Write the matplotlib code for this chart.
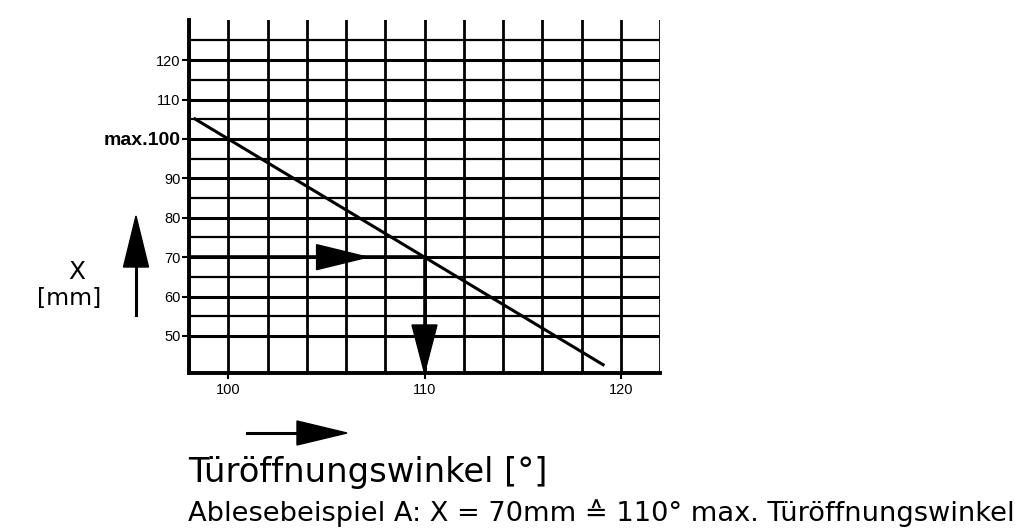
import numpy as np
import matplotlib
matplotlib.use("Agg")
import matplotlib.pyplot as plt
from matplotlib.patches import Polygon
from matplotlib.transforms import IdentityTransform

# Kennlinie: Türöffnungswinkel [°] -> X [mm]
winkel = [98.3, 119.1]
abstand = [105.1, 42.7]

# Ablesebeispiel A
beispiel_x = 70
beispiel_winkel = 110

x_ticks = [100, 110, 120]
y_ticks = [50, 60, 70, 80, 90, 100, 110, 120]
y_labels = ["50", "60", "70", "80", "90", "max.100", "110", "120"]
x_grid = np.arange(98, 123, 2)
y_grid = np.arange(50, 126, 5)

plt.rcParams['font.family'] = ['Liberation Sans Narrow', 'Liberation Sans', 'DejaVu Sans']
thin = ['DejaVu Sans', 'DejaVu Sans Mono', 'Noto Sans CJK JP']

fig = plt.figure(figsize=(10.19, 5.32), dpi=100)
W, H = 1019, 532
ax = fig.add_axes([189 / W, 1 - 373 / H, (660 - 189) / W, (373 - 20) / H])
ax.set_xlim(98, 122)
ax.set_ylim(40.6, 130.2)

# Raster
for gx in x_grid:
    ax.axvline(gx, color='black', lw=2.0, zorder=1)
for gy in y_grid:
    lw = 2.2 if gy % 10 == 0 else 1.6
    ax.plot([98, 122], [gy, gy], color='black', lw=lw, zorder=1, solid_capstyle='butt')

for s in ['top', 'right']:
    ax.spines[s].set_visible(False)
for s in ['left', 'bottom']:
    ax.spines[s].set_linewidth(2.8)

ax.set_xticks(x_ticks)
ax.set_xticklabels([str(t) for t in x_ticks], fontsize=10.5)
ax.set_yticks(y_ticks)
ax.set_yticklabels(y_labels, fontsize=10.5)
for lab in ax.get_yticklabels():
    if lab.get_text().startswith("max"):
        lab.set_fontsize(14)
        lab.set_fontweight('semibold')
ax.tick_params(axis='y', length=5, width=1.5, pad=1)
ax.tick_params(axis='x', length=4, width=1.5, pad=3)

# Kennlinie
ax.plot(winkel, abstand, color='black', lw=2.2, zorder=3)

# Ablesebeispiel: Linien
ax.plot([98, beispiel_winkel], [beispiel_x, beispiel_x], color='black', lw=2.6, zorder=3)
ax.plot([beispiel_winkel, beispiel_winkel], [beispiel_x, 40.6], color='black', lw=2.6, zorder=3)


def head(tip_px, direction, length, width, artist_add):
    tx, ty = tip_px
    dx, dy = direction
    bx, by = tx - dx * length, ty - dy * length
    px, py = -dy, dx
    pts = [(tx, ty), (bx + px * width / 2, by + py * width / 2),
           (bx - px * width / 2, by - py * width / 2)]
    artist_add(Polygon(pts, closed=True, facecolor='black', edgecolor='black',
                       transform=IdentityTransform(), zorder=5))


fig.canvas.draw()
# Pfeilspitze horizontal (Mitte der Linie)
tip = ax.transData.transform((107.1, beispiel_x))
head(tip, (1, 0), 51, 25, ax.add_patch)
# Pfeilspitze nach unten
tip = ax.transData.transform((beispiel_winkel, 40.6))
head(tip, (0, -1), 48, 25, ax.add_patch)


def fig_px(x, y):
    return (x, H - y)


# Y-Achsen-Pfeil links
fig.add_artist(plt.Line2D([136, 136], [H - 315, H - 260], color='black', lw=2.2,
                          transform=IdentityTransform()))
head(fig_px(136, 216), (0, 1), 51, 25, fig.add_artist)


def fit_text(x, y, s, width, size, **kw):
    # Schriftgröße so anpassen, dass die Breite passt
    t = fig.text(x / W, 1 - y / H, s, fontsize=size, family=thin, **kw)
    r = fig.canvas.get_renderer()
    w = t.get_window_extent(r).width
    t.set_fontsize(size * width / w)
    return t


fit_text(77, 272, "X", 17, 18, ha='center', va='center')
fit_text(69, 298, "[mm]", 64, 18, ha='center', va='center')

# X-Achsen-Pfeil unten
fig.add_artist(plt.Line2D([247, 300], [H - 433, H - 433], color='black', lw=2.2,
                          transform=IdentityTransform()))
head(fig_px(347, 433), (1, 0), 50, 24, fig.add_artist)

fit_text(188, 482, "Türöffnungswinkel [°]", 359, 24, ha='left', va='baseline')
fit_text(188, 521, "Ablesebeispiel A: X = 70mm \u2259 110° max. Türöffnungswinkel",
         824, 20, ha='left', va='baseline')

fig.savefig("out.png", dpi=100)
